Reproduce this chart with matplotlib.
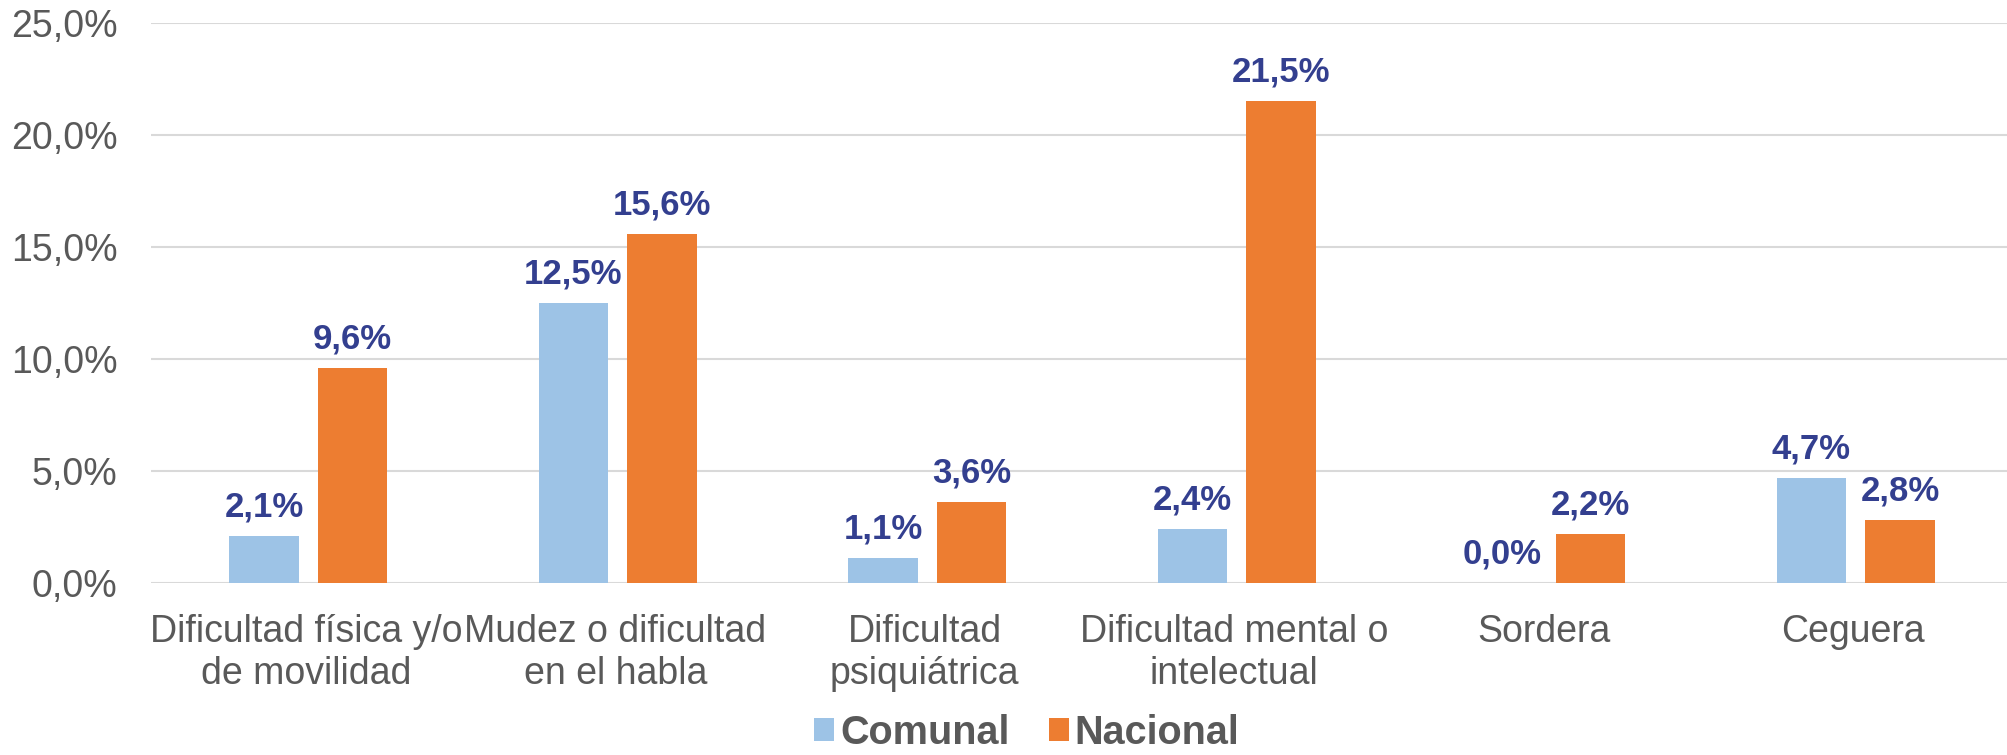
import matplotlib
matplotlib.use("Agg")
import matplotlib.pyplot as plt
import numpy as np

categories = ["Dificultad física y/o\nde movilidad", "Mudez o dificultad\nen el habla",
              "Dificultad\npsiquiátrica", "Dificultad mental o\nintelectual",
              "Sordera", "Ceguera"]
comunal = [2.1, 12.5, 1.1, 2.4, 0.0, 4.7]
nacional = [9.6, 15.6, 3.6, 21.5, 2.2, 2.8]
series_names = ["Comunal", "Nacional"]
yticks = [0, 5, 10, 15, 20, 25]

plt.rcParams['font.family'] = ['Liberation Sans', 'DejaVu Sans']

fig = plt.figure(figsize=(20.08, 7.55), dpi=100)
ax = fig.add_axes([151/2008, 1 - 583/755, 1 - 151/2008, (583 - 23)/755])

x = np.arange(len(categories))
w = 0.224
off = 0.143
c_blue = "#9DC3E6"
c_orange = "#ED7D31"
lab_col = "#333F8F"
txt_col = "#595959"

b1 = ax.bar(x - off + 0.008, comunal, w, color=c_blue, label=series_names[0], zorder=3)
b2 = ax.bar(x + off + 0.008, nacional, w, color=c_orange, label=series_names[1], zorder=3)

for bars, vals in ((b1, comunal), (b2, nacional)):
    for rect, v in zip(bars, vals):
        ax.annotate(f"{v:.1f}%".replace(".", ","),
                    (rect.get_x() + rect.get_width() / 2, v),
                    xytext=(0, 14), textcoords="offset points",
                    ha="center", va="baseline", fontsize=25, fontweight="bold",
                    color=lab_col, zorder=4)

ax.set_xlim(-0.5, len(categories) - 0.5)
ax.set_ylim(0, 25)
ax.set_yticks(yticks)
ax.set_yticklabels([f"{t:.1f}%".replace(".", ",") for t in yticks], fontsize=27, color=txt_col)
ax.set_xticks(x)
ax.set_xticklabels(categories, fontsize=27, color=txt_col, linespacing=1.22)
ax.tick_params(axis="both", length=0)
ax.tick_params(axis="y", pad=24)
ax.tick_params(axis="x", pad=22)
ax.grid(axis="y", color="#D9D9D9", linewidth=1.5, zorder=0)
for s in ax.spines.values():
    s.set_visible(False)

leg = fig.legend(handles=[b1, b2], labels=series_names, loc="lower center",
                 bbox_to_anchor=(1027/2008, -0.022), ncol=2, frameon=False,
                 prop={"size": 28.5, "weight": "bold"}, handlelength=0.5, handleheight=0.5,
                 handletextpad=0.15, columnspacing=1.0, borderpad=0)
for t in leg.get_texts():
    t.set_color(txt_col)

fig.savefig("out.png", dpi=100, facecolor="white")
